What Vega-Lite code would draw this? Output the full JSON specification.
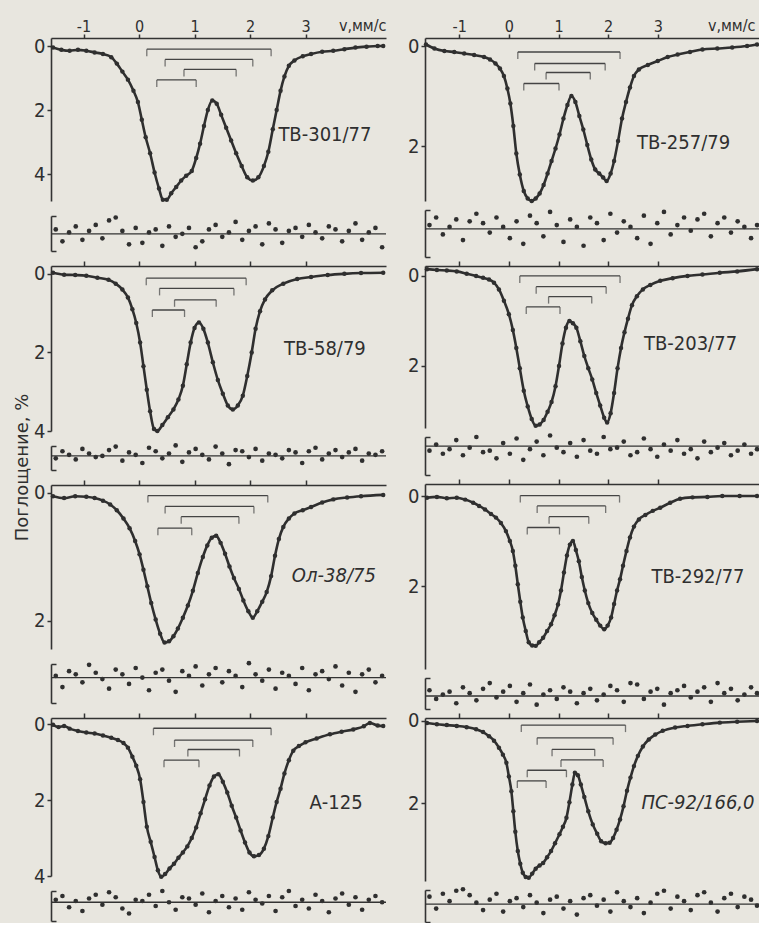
{
"$schema":"https://vega.github.io/schema/vega-lite/v6.json",
"background":"#e8e6df",
"padding":{"left":12,"top":17,"right":2,"bottom":0},
"spacing":18,
"config":{"view":{"stroke":null},"axis":{"grid":false,"domainColor":"#333","tickColor":"#333","labelColor":"#2f2f2f","titleColor":"#2f2f2f","domainWidth":1.6,"tickWidth":1.5,"labelExpr":"datum.value + ''","labelFont":"Liberation Sans Narrow, DejaVu Sans Condensed, sans-serif","titleFont":"DejaVu Sans, sans-serif","titleFontWeight":"normal"}},
"datasets":{
"spec":[
{"p":"L1","v":-1.55,"a":0.05},{"p":"L1","v":-1.4,"a":0.12},{"p":"L1","v":-1.25,"a":0.15},{"p":"L1","v":-1.1,"a":0.12},{"p":"L1","v":-0.95,"a":0.15},{"p":"L1","v":-0.8,"a":0.2},{"p":"L1","v":-0.65,"a":0.25},{"p":"L1","v":-0.5,"a":0.35},{"p":"L1","v":-0.4,"a":0.55},{"p":"L1","v":-0.3,"a":0.8},{"p":"L1","v":-0.2,"a":1.05},{"p":"L1","v":-0.1,"a":1.4},{"p":"L1","v":-0.02,"a":1.75},{"p":"L1","v":0.05,"a":2.3},{"p":"L1","v":0.12,"a":2.85},{"p":"L1","v":0.2,"a":3.35},{"p":"L1","v":0.28,"a":3.95},{"p":"L1","v":0.36,"a":4.45},{"p":"L1","v":0.43,"a":4.8},{"p":"L1","v":0.5,"a":4.8},{"p":"L1","v":0.58,"a":4.6},{"p":"L1","v":0.67,"a":4.4},{"p":"L1","v":0.76,"a":4.2},{"p":"L1","v":0.85,"a":4.05},{"p":"L1","v":0.95,"a":3.9},{"p":"L1","v":1.03,"a":3.5},{"p":"L1","v":1.1,"a":3.05},{"p":"L1","v":1.17,"a":2.5},{"p":"L1","v":1.24,"a":2.0},{"p":"L1","v":1.32,"a":1.7},{"p":"L1","v":1.4,"a":1.8},{"p":"L1","v":1.48,"a":2.15},{"p":"L1","v":1.57,"a":2.55},{"p":"L1","v":1.66,"a":2.95},{"p":"L1","v":1.75,"a":3.35},{"p":"L1","v":1.85,"a":3.75},{"p":"L1","v":1.95,"a":4.1},{"p":"L1","v":2.05,"a":4.2},{"p":"L1","v":2.15,"a":4.1},{"p":"L1","v":2.25,"a":3.75},{"p":"L1","v":2.33,"a":3.3},{"p":"L1","v":2.41,"a":2.6},{"p":"L1","v":2.48,"a":2.0},{"p":"L1","v":2.55,"a":1.4},{"p":"L1","v":2.62,"a":0.95},{"p":"L1","v":2.7,"a":0.62},{"p":"L1","v":2.8,"a":0.45},{"p":"L1","v":2.95,"a":0.32},{"p":"L1","v":3.1,"a":0.25},{"p":"L1","v":3.3,"a":0.18},{"p":"L1","v":3.5,"a":0.15},{"p":"L1","v":3.7,"a":0.1},{"p":"L1","v":3.9,"a":0.05},{"p":"L1","v":4.1,"a":0.02},{"p":"L1","v":4.3,"a":0.0},{"p":"L1","v":4.4,"a":0.0},
{"p":"L2","v":-1.55,"a":-0.03},{"p":"L2","v":-1.35,"a":0.02},{"p":"L2","v":-1.15,"a":0.03},{"p":"L2","v":-0.95,"a":0.05},{"p":"L2","v":-0.75,"a":0.1},{"p":"L2","v":-0.55,"a":0.15},{"p":"L2","v":-0.42,"a":0.25},{"p":"L2","v":-0.3,"a":0.4},{"p":"L2","v":-0.2,"a":0.6},{"p":"L2","v":-0.12,"a":0.9},{"p":"L2","v":-0.05,"a":1.25},{"p":"L2","v":0.02,"a":1.75},{"p":"L2","v":0.08,"a":2.35},{"p":"L2","v":0.14,"a":2.95},{"p":"L2","v":0.2,"a":3.5},{"p":"L2","v":0.27,"a":3.95},{"p":"L2","v":0.33,"a":4.0},{"p":"L2","v":0.42,"a":3.85},{"p":"L2","v":0.52,"a":3.65},{"p":"L2","v":0.62,"a":3.45},{"p":"L2","v":0.71,"a":3.2},{"p":"L2","v":0.79,"a":2.85},{"p":"L2","v":0.86,"a":2.3},{"p":"L2","v":0.93,"a":1.75},{"p":"L2","v":1.0,"a":1.38},{"p":"L2","v":1.08,"a":1.24},{"p":"L2","v":1.16,"a":1.4},{"p":"L2","v":1.24,"a":1.75},{"p":"L2","v":1.33,"a":2.25},{"p":"L2","v":1.42,"a":2.7},{"p":"L2","v":1.51,"a":3.05},{"p":"L2","v":1.6,"a":3.35},{"p":"L2","v":1.69,"a":3.45},{"p":"L2","v":1.78,"a":3.35},{"p":"L2","v":1.87,"a":3.1},{"p":"L2","v":1.95,"a":2.6},{"p":"L2","v":2.03,"a":2.0},{"p":"L2","v":2.1,"a":1.4},{"p":"L2","v":2.18,"a":0.95},{"p":"L2","v":2.27,"a":0.65},{"p":"L2","v":2.4,"a":0.42},{"p":"L2","v":2.6,"a":0.25},{"p":"L2","v":2.85,"a":0.13},{"p":"L2","v":3.1,"a":0.08},{"p":"L2","v":3.4,"a":0.03},{"p":"L2","v":3.7,"a":0.0},{"p":"L2","v":4.0,"a":-0.02},{"p":"L2","v":4.4,"a":-0.03},
{"p":"L3","v":-1.55,"a":0.05},{"p":"L3","v":-1.35,"a":0.08},{"p":"L3","v":-1.15,"a":0.05},{"p":"L3","v":-0.95,"a":0.06},{"p":"L3","v":-0.8,"a":0.08},{"p":"L3","v":-0.65,"a":0.12},{"p":"L3","v":-0.52,"a":0.18},{"p":"L3","v":-0.4,"a":0.27},{"p":"L3","v":-0.28,"a":0.4},{"p":"L3","v":-0.17,"a":0.55},{"p":"L3","v":-0.07,"a":0.75},{"p":"L3","v":0.01,"a":0.96},{"p":"L3","v":0.08,"a":1.2},{"p":"L3","v":0.15,"a":1.46},{"p":"L3","v":0.22,"a":1.72},{"p":"L3","v":0.3,"a":1.98},{"p":"L3","v":0.38,"a":2.2},{"p":"L3","v":0.46,"a":2.34},{"p":"L3","v":0.54,"a":2.32},{"p":"L3","v":0.62,"a":2.24},{"p":"L3","v":0.7,"a":2.12},{"p":"L3","v":0.79,"a":1.95},{"p":"L3","v":0.88,"a":1.76},{"p":"L3","v":0.97,"a":1.53},{"p":"L3","v":1.06,"a":1.25},{"p":"L3","v":1.15,"a":1.0},{"p":"L3","v":1.23,"a":0.82},{"p":"L3","v":1.31,"a":0.7},{"p":"L3","v":1.39,"a":0.67},{"p":"L3","v":1.47,"a":0.78},{"p":"L3","v":1.55,"a":0.95},{"p":"L3","v":1.63,"a":1.15},{"p":"L3","v":1.71,"a":1.33},{"p":"L3","v":1.8,"a":1.5},{"p":"L3","v":1.88,"a":1.68},{"p":"L3","v":1.97,"a":1.85},{"p":"L3","v":2.05,"a":1.95},{"p":"L3","v":2.13,"a":1.85},{"p":"L3","v":2.22,"a":1.7},{"p":"L3","v":2.3,"a":1.55},{"p":"L3","v":2.38,"a":1.3},{"p":"L3","v":2.45,"a":0.98},{"p":"L3","v":2.52,"a":0.72},{"p":"L3","v":2.6,"a":0.53},{"p":"L3","v":2.7,"a":0.4},{"p":"L3","v":2.8,"a":0.32},{"p":"L3","v":2.95,"a":0.27},{"p":"L3","v":3.1,"a":0.22},{"p":"L3","v":3.3,"a":0.15},{"p":"L3","v":3.5,"a":0.1},{"p":"L3","v":3.75,"a":0.07},{"p":"L3","v":4.0,"a":0.05},{"p":"L3","v":4.4,"a":0.03},
{"p":"L4","v":-1.55,"a":0.02},{"p":"L4","v":-1.45,"a":0.08},{"p":"L4","v":-1.35,"a":0.05},{"p":"L4","v":-1.25,"a":0.12},{"p":"L4","v":-1.1,"a":0.18},{"p":"L4","v":-0.95,"a":0.22},{"p":"L4","v":-0.8,"a":0.25},{"p":"L4","v":-0.65,"a":0.3},{"p":"L4","v":-0.5,"a":0.36},{"p":"L4","v":-0.38,"a":0.42},{"p":"L4","v":-0.28,"a":0.5},{"p":"L4","v":-0.2,"a":0.62},{"p":"L4","v":-0.12,"a":0.86},{"p":"L4","v":-0.05,"a":1.1},{"p":"L4","v":0.02,"a":1.45},{"p":"L4","v":0.08,"a":2.05},{"p":"L4","v":0.14,"a":2.7},{"p":"L4","v":0.21,"a":3.1},{"p":"L4","v":0.28,"a":3.5},{"p":"L4","v":0.34,"a":3.85},{"p":"L4","v":0.4,"a":4.02},{"p":"L4","v":0.47,"a":3.95},{"p":"L4","v":0.55,"a":3.8},{"p":"L4","v":0.63,"a":3.68},{"p":"L4","v":0.71,"a":3.52},{"p":"L4","v":0.79,"a":3.38},{"p":"L4","v":0.87,"a":3.22},{"p":"L4","v":0.95,"a":3.0},{"p":"L4","v":1.03,"a":2.72},{"p":"L4","v":1.11,"a":2.35},{"p":"L4","v":1.19,"a":1.98},{"p":"L4","v":1.27,"a":1.62},{"p":"L4","v":1.35,"a":1.38},{"p":"L4","v":1.43,"a":1.32},{"p":"L4","v":1.51,"a":1.52},{"p":"L4","v":1.59,"a":1.8},{"p":"L4","v":1.67,"a":2.15},{"p":"L4","v":1.75,"a":2.46},{"p":"L4","v":1.83,"a":2.8},{"p":"L4","v":1.91,"a":3.12},{"p":"L4","v":1.99,"a":3.38},{"p":"L4","v":2.07,"a":3.48},{"p":"L4","v":2.16,"a":3.45},{"p":"L4","v":2.25,"a":3.28},{"p":"L4","v":2.33,"a":2.95},{"p":"L4","v":2.41,"a":2.46},{"p":"L4","v":2.48,"a":2.05},{"p":"L4","v":2.55,"a":1.7},{"p":"L4","v":2.62,"a":1.3},{"p":"L4","v":2.7,"a":0.95},{"p":"L4","v":2.78,"a":0.7},{"p":"L4","v":2.88,"a":0.58},{"p":"L4","v":3.0,"a":0.48},{"p":"L4","v":3.2,"a":0.38},{"p":"L4","v":3.44,"a":0.27},{"p":"L4","v":3.65,"a":0.2},{"p":"L4","v":3.86,"a":0.14},{"p":"L4","v":4.05,"a":0.06},{"p":"L4","v":4.16,"a":-0.03},{"p":"L4","v":4.3,"a":0.04},{"p":"L4","v":4.4,"a":0.05},
{"p":"R1","v":-1.67,"a":-0.03},{"p":"R1","v":-1.5,"a":0.05},{"p":"R1","v":-1.3,"a":0.1},{"p":"R1","v":-1.1,"a":0.12},{"p":"R1","v":-0.9,"a":0.15},{"p":"R1","v":-0.7,"a":0.18},{"p":"R1","v":-0.5,"a":0.22},{"p":"R1","v":-0.38,"a":0.27},{"p":"R1","v":-0.27,"a":0.35},{"p":"R1","v":-0.18,"a":0.45},{"p":"R1","v":-0.1,"a":0.6},{"p":"R1","v":-0.03,"a":0.85},{"p":"R1","v":0.03,"a":1.15},{"p":"R1","v":0.09,"a":1.6},{"p":"R1","v":0.15,"a":2.15},{"p":"R1","v":0.22,"a":2.57},{"p":"R1","v":0.3,"a":2.9},{"p":"R1","v":0.38,"a":3.05},{"p":"R1","v":0.46,"a":3.1},{"p":"R1","v":0.54,"a":3.05},{"p":"R1","v":0.62,"a":2.95},{"p":"R1","v":0.7,"a":2.78},{"p":"R1","v":0.78,"a":2.55},{"p":"R1","v":0.86,"a":2.3},{"p":"R1","v":0.94,"a":2.05},{"p":"R1","v":1.02,"a":1.77},{"p":"R1","v":1.1,"a":1.45},{"p":"R1","v":1.18,"a":1.18},{"p":"R1","v":1.26,"a":1.0},{"p":"R1","v":1.34,"a":1.12},{"p":"R1","v":1.42,"a":1.4},{"p":"R1","v":1.5,"a":1.67},{"p":"R1","v":1.58,"a":1.98},{"p":"R1","v":1.66,"a":2.27},{"p":"R1","v":1.74,"a":2.47},{"p":"R1","v":1.82,"a":2.55},{"p":"R1","v":1.9,"a":2.63},{"p":"R1","v":1.97,"a":2.7},{"p":"R1","v":2.05,"a":2.55},{"p":"R1","v":2.12,"a":2.3},{"p":"R1","v":2.2,"a":1.9},{"p":"R1","v":2.28,"a":1.45},{"p":"R1","v":2.36,"a":1.12},{"p":"R1","v":2.44,"a":0.83},{"p":"R1","v":2.52,"a":0.6},{"p":"R1","v":2.62,"a":0.47},{"p":"R1","v":2.8,"a":0.38},{"p":"R1","v":3.0,"a":0.3},{"p":"R1","v":3.2,"a":0.22},{"p":"R1","v":3.4,"a":0.17},{"p":"R1","v":3.65,"a":0.12},{"p":"R1","v":3.9,"a":0.07},{"p":"R1","v":4.2,"a":0.05},{"p":"R1","v":4.5,"a":0.03},{"p":"R1","v":4.8,"a":0.0},{"p":"R1","v":5.0,"a":-0.03},
{"p":"R2","v":-1.65,"a":-0.15},{"p":"R2","v":-1.45,"a":-0.13},{"p":"R2","v":-1.25,"a":-0.12},{"p":"R2","v":-1.05,"a":-0.1},{"p":"R2","v":-0.85,"a":-0.05},{"p":"R2","v":-0.66,"a":0.0},{"p":"R2","v":-0.52,"a":0.04},{"p":"R2","v":-0.4,"a":0.08},{"p":"R2","v":-0.3,"a":0.15},{"p":"R2","v":-0.2,"a":0.3},{"p":"R2","v":-0.1,"a":0.55},{"p":"R2","v":0.0,"a":0.85},{"p":"R2","v":0.08,"a":1.2},{"p":"R2","v":0.15,"a":1.6},{"p":"R2","v":0.22,"a":2.05},{"p":"R2","v":0.3,"a":2.55},{"p":"R2","v":0.38,"a":2.9},{"p":"R2","v":0.46,"a":3.18},{"p":"R2","v":0.54,"a":3.33},{"p":"R2","v":0.62,"a":3.3},{"p":"R2","v":0.7,"a":3.2},{"p":"R2","v":0.78,"a":3.02},{"p":"R2","v":0.86,"a":2.8},{"p":"R2","v":0.94,"a":2.45},{"p":"R2","v":1.01,"a":2.0},{"p":"R2","v":1.08,"a":1.5},{"p":"R2","v":1.15,"a":1.15},{"p":"R2","v":1.22,"a":1.0},{"p":"R2","v":1.29,"a":1.05},{"p":"R2","v":1.36,"a":1.15},{"p":"R2","v":1.44,"a":1.45},{"p":"R2","v":1.52,"a":1.78},{"p":"R2","v":1.6,"a":2.05},{"p":"R2","v":1.68,"a":2.3},{"p":"R2","v":1.76,"a":2.6},{"p":"R2","v":1.84,"a":2.88},{"p":"R2","v":1.92,"a":3.15},{"p":"R2","v":1.98,"a":3.26},{"p":"R2","v":2.05,"a":3.05},{"p":"R2","v":2.12,"a":2.6},{"p":"R2","v":2.19,"a":2.05},{"p":"R2","v":2.26,"a":1.6},{"p":"R2","v":2.33,"a":1.25},{"p":"R2","v":2.4,"a":0.95},{"p":"R2","v":2.48,"a":0.65},{"p":"R2","v":2.58,"a":0.45},{"p":"R2","v":2.7,"a":0.3},{"p":"R2","v":2.85,"a":0.2},{"p":"R2","v":3.05,"a":0.11},{"p":"R2","v":3.3,"a":0.05},{"p":"R2","v":3.6,"a":0.0},{"p":"R2","v":3.9,"a":-0.03},{"p":"R2","v":4.25,"a":-0.07},{"p":"R2","v":4.6,"a":-0.1},{"p":"R2","v":5.0,"a":-0.15},
{"p":"R3","v":-1.65,"a":0.04},{"p":"R3","v":-1.45,"a":0.02},{"p":"R3","v":-1.25,"a":0.05},{"p":"R3","v":-1.05,"a":0.04},{"p":"R3","v":-0.88,"a":0.08},{"p":"R3","v":-0.72,"a":0.15},{"p":"R3","v":-0.6,"a":0.22},{"p":"R3","v":-0.48,"a":0.3},{"p":"R3","v":-0.36,"a":0.4},{"p":"R3","v":-0.26,"a":0.48},{"p":"R3","v":-0.16,"a":0.6},{"p":"R3","v":-0.06,"a":0.78},{"p":"R3","v":0.02,"a":1.0},{"p":"R3","v":0.08,"a":1.22},{"p":"R3","v":0.13,"a":1.55},{"p":"R3","v":0.18,"a":1.96},{"p":"R3","v":0.23,"a":2.35},{"p":"R3","v":0.28,"a":2.7},{"p":"R3","v":0.34,"a":3.0},{"p":"R3","v":0.4,"a":3.25},{"p":"R3","v":0.47,"a":3.32},{"p":"R3","v":0.54,"a":3.33},{"p":"R3","v":0.61,"a":3.25},{"p":"R3","v":0.69,"a":3.15},{"p":"R3","v":0.77,"a":3.0},{"p":"R3","v":0.85,"a":2.85},{"p":"R3","v":0.92,"a":2.65},{"p":"R3","v":0.99,"a":2.41},{"p":"R3","v":1.05,"a":2.1},{"p":"R3","v":1.11,"a":1.7},{"p":"R3","v":1.17,"a":1.32},{"p":"R3","v":1.23,"a":1.08},{"p":"R3","v":1.29,"a":1.0},{"p":"R3","v":1.35,"a":1.2},{"p":"R3","v":1.41,"a":1.45},{"p":"R3","v":1.47,"a":1.8},{"p":"R3","v":1.53,"a":2.1},{"p":"R3","v":1.6,"a":2.38},{"p":"R3","v":1.68,"a":2.6},{"p":"R3","v":1.76,"a":2.75},{"p":"R3","v":1.84,"a":2.88},{"p":"R3","v":1.92,"a":2.96},{"p":"R3","v":1.99,"a":2.88},{"p":"R3","v":2.06,"a":2.7},{"p":"R3","v":2.12,"a":2.4},{"p":"R3","v":2.18,"a":2.1},{"p":"R3","v":2.24,"a":1.85},{"p":"R3","v":2.3,"a":1.55},{"p":"R3","v":2.37,"a":1.22},{"p":"R3","v":2.44,"a":0.92},{"p":"R3","v":2.52,"a":0.68},{"p":"R3","v":2.62,"a":0.52},{"p":"R3","v":2.75,"a":0.42},{"p":"R3","v":2.9,"a":0.33},{"p":"R3","v":3.05,"a":0.26},{"p":"R3","v":3.25,"a":0.15},{"p":"R3","v":3.45,"a":0.06},{"p":"R3","v":3.7,"a":0.03},{"p":"R3","v":4.0,"a":0.02},{"p":"R3","v":4.3,"a":0.0},{"p":"R3","v":4.65,"a":0.0},{"p":"R3","v":5.0,"a":0.0},
{"p":"R4","v":-1.65,"a":0.05},{"p":"R4","v":-1.45,"a":0.08},{"p":"R4","v":-1.25,"a":0.1},{"p":"R4","v":-1.05,"a":0.12},{"p":"R4","v":-0.85,"a":0.15},{"p":"R4","v":-0.66,"a":0.2},{"p":"R4","v":-0.52,"a":0.27},{"p":"R4","v":-0.4,"a":0.37},{"p":"R4","v":-0.3,"a":0.48},{"p":"R4","v":-0.2,"a":0.65},{"p":"R4","v":-0.12,"a":0.82},{"p":"R4","v":-0.05,"a":1.02},{"p":"R4","v":0.0,"a":1.35},{"p":"R4","v":0.05,"a":1.71},{"p":"R4","v":0.09,"a":2.2},{"p":"R4","v":0.13,"a":2.7},{"p":"R4","v":0.18,"a":3.17},{"p":"R4","v":0.23,"a":3.48},{"p":"R4","v":0.28,"a":3.7},{"p":"R4","v":0.34,"a":3.8},{"p":"R4","v":0.4,"a":3.82},{"p":"R4","v":0.47,"a":3.72},{"p":"R4","v":0.54,"a":3.6},{"p":"R4","v":0.62,"a":3.52},{"p":"R4","v":0.69,"a":3.46},{"p":"R4","v":0.77,"a":3.32},{"p":"R4","v":0.85,"a":3.17},{"p":"R4","v":0.93,"a":2.98},{"p":"R4","v":1.02,"a":2.76},{"p":"R4","v":1.09,"a":2.58},{"p":"R4","v":1.16,"a":2.36},{"p":"R4","v":1.22,"a":1.98},{"p":"R4","v":1.28,"a":1.55},{"p":"R4","v":1.33,"a":1.26},{"p":"R4","v":1.39,"a":1.32},{"p":"R4","v":1.45,"a":1.55},{"p":"R4","v":1.52,"a":1.85},{"p":"R4","v":1.6,"a":2.2},{"p":"R4","v":1.69,"a":2.52},{"p":"R4","v":1.78,"a":2.75},{"p":"R4","v":1.86,"a":2.93},{"p":"R4","v":1.95,"a":2.98},{"p":"R4","v":2.03,"a":2.97},{"p":"R4","v":2.1,"a":2.85},{"p":"R4","v":2.17,"a":2.65},{"p":"R4","v":2.24,"a":2.4},{"p":"R4","v":2.31,"a":2.08},{"p":"R4","v":2.38,"a":1.7},{"p":"R4","v":2.45,"a":1.38},{"p":"R4","v":2.52,"a":1.1},{"p":"R4","v":2.6,"a":0.85},{"p":"R4","v":2.7,"a":0.62},{"p":"R4","v":2.82,"a":0.45},{"p":"R4","v":2.95,"a":0.33},{"p":"R4","v":3.1,"a":0.24},{"p":"R4","v":3.35,"a":0.16},{"p":"R4","v":3.6,"a":0.12},{"p":"R4","v":3.9,"a":0.08},{"p":"R4","v":4.25,"a":0.04},{"p":"R4","v":4.6,"a":0.02},{"p":"R4","v":5.0,"a":0.0}
],
"br":[
{"p":"L1","v1":0.14,"v2":2.38,"b":0.1},{"p":"L1","v1":0.47,"v2":2.05,"b":0.42},{"p":"L1","v1":0.81,"v2":1.75,"b":0.73},{"p":"L1","v1":0.32,"v2":1.03,"b":1.06},
{"p":"L2","v1":0.13,"v2":1.93,"b":0.11},{"p":"L2","v1":0.37,"v2":1.71,"b":0.37},{"p":"L2","v1":0.64,"v2":1.39,"b":0.66},{"p":"L2","v1":0.24,"v2":0.82,"b":0.92},
{"p":"L3","v1":0.16,"v2":2.32,"b":0.04},{"p":"L3","v1":0.47,"v2":2.07,"b":0.21},{"p":"L3","v1":0.76,"v2":1.8,"b":0.37},{"p":"L3","v1":0.34,"v2":0.95,"b":0.55},
{"p":"L4","v1":0.26,"v2":2.38,"b":0.11},{"p":"L4","v1":0.64,"v2":2.05,"b":0.42},{"p":"L4","v1":0.88,"v2":1.81,"b":0.67},{"p":"L4","v1":0.45,"v2":1.08,"b":0.95},
{"p":"R1","v1":0.18,"v2":2.24,"b":0.12},{"p":"R1","v1":0.52,"v2":1.94,"b":0.35},{"p":"R1","v1":0.75,"v2":1.64,"b":0.53},{"p":"R1","v1":0.3,"v2":1.01,"b":0.75},
{"p":"R2","v1":0.22,"v2":2.24,"b":0.0},{"p":"R2","v1":0.55,"v2":1.96,"b":0.24},{"p":"R2","v1":0.8,"v2":1.67,"b":0.46},{"p":"R2","v1":0.35,"v2":1.03,"b":0.69},
{"p":"R3","v1":0.23,"v2":2.23,"b":-0.01},{"p":"R3","v1":0.57,"v2":1.95,"b":0.22},{"p":"R3","v1":0.81,"v2":1.61,"b":0.46},{"p":"R3","v1":0.37,"v2":1.02,"b":0.7},
{"p":"R4","v1":0.25,"v2":2.35,"b":0.1},{"p":"R4","v1":0.57,"v2":2.1,"b":0.41},{"p":"R4","v1":0.87,"v2":1.73,"b":0.69},{"p":"R4","v1":1.05,"v2":1.9,"b":0.95},{"p":"R4","v1":0.37,"v2":1.16,"b":1.2},{"p":"R4","v1":0.17,"v2":0.75,"b":1.46}
],
"lab":[
{"p":"L1","v":3.35,"a":2.78,"t":"ТВ-301/77"},{"p":"L2","v":3.35,"a":1.9,"t":"ТВ-58/79"},{"p":"L3","v":3.51,"a":1.3,"t":"Ол-38/75"},{"p":"L4","v":3.55,"a":2.08,"t":"А-125"},
{"p":"R1","v":3.52,"a":1.93,"t":"ТВ-257/79"},{"p":"R2","v":3.66,"a":1.51,"t":"ТВ-203/77"},{"p":"R3","v":3.81,"a":1.81,"t":"ТВ-292/77"},{"p":"R4","v":3.81,"a":1.99,"t":"ПС-92/166,0"}
],
"rl":[
{"v":-1.5,"L1":0.3,"L2":-0.2,"L3":0.1,"L4":0.2},{"v":-1.38,"L1":-0.5,"L2":0.4,"L3":-0.6,"L4":0.5},{"v":-1.26,"L1":0.1,"L2":0.1,"L3":0.4,"L4":-0.4},{"v":-1.14,"L1":0.5,"L2":-0.3,"L3":0.2,"L4":0.1},{"v":-1.02,"L1":-0.4,"L2":0.6,"L3":-0.3,"L4":-0.7},{"v":-0.9,"L1":0.2,"L2":0.2,"L3":0.8,"L4":0.3},{"v":-0.78,"L1":0.6,"L2":-0.1,"L3":0.3,"L4":0.6},{"v":-0.66,"L1":-0.3,"L2":0.0,"L3":-0.1,"L4":-0.2},{"v":-0.54,"L1":0.9,"L2":0.5,"L3":-0.7,"L4":0.8},{"v":-0.42,"L1":1.1,"L2":0.8,"L3":0.5,"L4":0.4},{"v":-0.3,"L1":0.2,"L2":-0.4,"L3":0.2,"L4":-0.5},{"v":-0.18,"L1":-0.7,"L2":0.3,"L3":-0.4,"L4":-0.9},{"v":-0.06,"L1":0.4,"L2":0.1,"L3":0.6,"L4":0.2},{"v":0.06,"L1":-0.6,"L2":-0.6,"L3":0.0,"L4":0.1},{"v":0.18,"L1":0.1,"L2":0.7,"L3":-0.8,"L4":0.6},{"v":0.3,"L1":0.3,"L2":0.4,"L3":0.3,"L4":-0.3},{"v":0.42,"L1":-0.8,"L2":-0.2,"L3":0.5,"L4":0.9},{"v":0.54,"L1":0.5,"L2":0.2,"L3":-0.2,"L4":0.0},{"v":0.66,"L1":-0.2,"L2":0.9,"L3":-0.9,"L4":-0.6},{"v":0.78,"L1":0.0,"L2":-0.5,"L3":0.4,"L4":0.4},{"v":0.9,"L1":0.4,"L2":0.3,"L3":0.1,"L4":0.3},{"v":1.02,"L1":-0.9,"L2":0.6,"L3":0.7,"L4":-0.2},{"v":1.14,"L1":-0.5,"L2":0.1,"L3":-0.5,"L4":0.7},{"v":1.26,"L1":0.3,"L2":-0.3,"L3":0.2,"L4":-0.8},{"v":1.38,"L1":0.6,"L2":0.8,"L3":0.6,"L4":0.1},{"v":1.5,"L1":-0.2,"L2":0.2,"L3":-0.3,"L4":0.5},{"v":1.62,"L1":0.1,"L2":-0.7,"L3":0.4,"L4":-0.4},{"v":1.74,"L1":0.8,"L2":0.5,"L3":0.1,"L4":0.3},{"v":1.86,"L1":-0.4,"L2":0.4,"L3":-0.6,"L4":-0.6},{"v":1.98,"L1":0.2,"L2":-0.1,"L3":0.9,"L4":0.8},{"v":2.1,"L1":0.5,"L2":0.6,"L3":0.2,"L4":0.2},{"v":2.22,"L1":-0.7,"L2":-0.4,"L3":-0.2,"L4":-0.1},{"v":2.34,"L1":0.7,"L2":0.2,"L3":0.5,"L4":0.5},{"v":2.46,"L1":0.3,"L2":0.1,"L3":-0.7,"L4":-0.7},{"v":2.58,"L1":-0.6,"L2":-0.2,"L3":0.3,"L4":0.4},{"v":2.7,"L1":0.2,"L2":0.5,"L3":0.1,"L4":0.9},{"v":2.82,"L1":0.4,"L2":0.3,"L3":-0.4,"L4":-0.3},{"v":2.94,"L1":-0.2,"L2":-0.6,"L3":0.6,"L4":0.2},{"v":3.06,"L1":0.6,"L2":0.4,"L3":-0.8,"L4":-0.5},{"v":3.18,"L1":0.1,"L2":0.7,"L3":0.2,"L4":0.6},{"v":3.3,"L1":-0.3,"L2":-0.3,"L3":0.4,"L4":0.1},{"v":3.42,"L1":0.5,"L2":0.2,"L3":-0.1,"L4":-0.8},{"v":3.54,"L1":0.3,"L2":0.5,"L3":0.7,"L4":0.3},{"v":3.66,"L1":-0.5,"L2":-0.1,"L3":-0.5,"L4":0.7},{"v":3.78,"L1":0.2,"L2":0.3,"L3":0.3,"L4":-0.2},{"v":3.9,"L1":0.7,"L2":0.6,"L3":-0.9,"L4":0.4},{"v":4.02,"L1":-0.4,"L2":-0.4,"L3":0.2,"L4":-0.6},{"v":4.14,"L1":0.1,"L2":0.2,"L3":0.5,"L4":0.2},{"v":4.26,"L1":0.4,"L2":0.1,"L3":-0.3,"L4":0.5},{"v":4.38,"L1":-0.9,"L2":0.4,"L3":0.1,"L4":0.0}
],
"rr":[
{"v":-1.6,"R1":0.2,"R2":-0.3,"R3":0.4,"R4":0.5},{"v":-1.465,"R1":0.6,"R2":0.1,"R3":-0.2,"R4":-0.3},{"v":-1.33,"R1":-0.3,"R2":-0.5,"R3":0.1,"R4":0.7},{"v":-1.195,"R1":0.1,"R2":-0.2,"R3":0.3,"R4":0.2},{"v":-1.06,"R1":0.5,"R2":0.4,"R3":-0.5,"R4":0.9},{"v":-0.925,"R1":-0.6,"R2":-0.6,"R3":0.6,"R4":1.0},{"v":-0.79,"R1":0.4,"R2":-0.1,"R3":0.2,"R4":0.6},{"v":-0.655,"R1":0.8,"R2":0.6,"R3":-0.3,"R4":0.1},{"v":-0.52,"R1":0.3,"R2":-0.4,"R3":0.5,"R4":-0.4},{"v":-0.385,"R1":-0.2,"R2":-0.3,"R3":0.9,"R4":0.3},{"v":-0.25,"R1":0.6,"R2":-0.8,"R3":-0.1,"R4":0.7},{"v":-0.115,"R1":0.1,"R2":0.2,"R3":0.3,"R4":-0.5},{"v":0.02,"R1":-0.5,"R2":-0.5,"R3":0.7,"R4":0.2},{"v":0.155,"R1":0.4,"R2":0.5,"R3":-0.4,"R4":0.4},{"v":0.29,"R1":-0.8,"R2":-0.9,"R3":0.2,"R4":-0.2},{"v":0.425,"R1":0.7,"R2":-0.2,"R3":0.8,"R4":0.6},{"v":0.56,"R1":0.3,"R2":0.3,"R3":-0.6,"R4":0.1},{"v":0.695,"R1":-0.4,"R2":-0.6,"R3":0.1,"R4":-0.6},{"v":0.83,"R1":0.9,"R2":0.7,"R3":0.4,"R4":0.3},{"v":0.965,"R1":0.2,"R2":-0.1,"R3":-0.2,"R4":0.5},{"v":1.1,"R1":-0.7,"R2":-0.4,"R3":0.6,"R4":-0.3},{"v":1.235,"R1":0.5,"R2":0.2,"R3":0.3,"R4":0.2},{"v":1.37,"R1":0.1,"R2":-0.7,"R3":-0.5,"R4":-0.7},{"v":1.505,"R1":-0.9,"R2":0.4,"R3":0.2,"R4":0.4},{"v":1.64,"R1":0.6,"R2":-0.3,"R3":0.5,"R4":0.6},{"v":1.775,"R1":0.3,"R2":-0.5,"R3":-0.3,"R4":-0.1},{"v":1.91,"R1":-0.6,"R2":0.6,"R3":0.1,"R4":0.3},{"v":2.045,"R1":0.8,"R2":-0.2,"R3":0.7,"R4":-0.5},{"v":2.18,"R1":-0.2,"R2":-0.1,"R3":0.4,"R4":0.8},{"v":2.315,"R1":0.4,"R2":0.3,"R3":-0.4,"R4":0.2},{"v":2.45,"R1":0.1,"R2":-0.6,"R3":0.9,"R4":-0.2},{"v":2.585,"R1":-0.5,"R2":-0.4,"R3":0.8,"R4":0.4},{"v":2.72,"R1":0.7,"R2":0.5,"R3":-0.2,"R4":-0.6},{"v":2.855,"R1":-0.8,"R2":-0.2,"R3":0.3,"R4":0.1},{"v":2.99,"R1":0.3,"R2":-0.7,"R3":0.5,"R4":0.7},{"v":3.125,"R1":0.9,"R2":0.1,"R3":-0.6,"R4":0.9},{"v":3.26,"R1":-0.3,"R2":-0.3,"R3":0.2,"R4":-0.3},{"v":3.395,"R1":0.2,"R2":0.4,"R3":0.4,"R4":0.5},{"v":3.53,"R1":0.6,"R2":-0.5,"R3":0.7,"R4":0.2},{"v":3.665,"R1":-0.1,"R2":-0.2,"R3":-0.1,"R4":-0.4},{"v":3.8,"R1":0.5,"R2":-0.8,"R3":0.3,"R4":0.6},{"v":3.935,"R1":0.8,"R2":0.3,"R3":0.6,"R4":0.8},{"v":4.07,"R1":-0.4,"R2":-0.4,"R3":-0.4,"R4":0.1},{"v":4.205,"R1":0.3,"R2":-0.1,"R3":0.9,"R4":-0.5},{"v":4.34,"R1":0.6,"R2":0.2,"R3":0.2,"R4":0.4},{"v":4.475,"R1":-0.2,"R2":-0.6,"R3":0.5,"R4":0.7},{"v":4.61,"R1":0.4,"R2":-0.3,"R3":-0.3,"R4":-0.2},{"v":4.745,"R1":0.1,"R2":0.1,"R3":0.1,"R4":0.5},{"v":4.88,"R1":-0.5,"R2":-0.5,"R3":0.6,"R4":0.3},{"v":5.0,"R1":0.2,"R2":-0.2,"R3":0.2,"R4":-0.1}
]
},
"hconcat":[
{"vconcat":[
 {"width":335,"height":163,"layer":[
  {"data":{"name":"spec"},"transform":[{"filter":"datum.p=='L1'"}],"mark":{"type":"line","color":"#2f2f2f","strokeWidth":2.6,"interpolate":"monotone"},
   "encoding":{"x":{"field":"v","type":"quantitative","scale":{"domain":[-1.586,4.45],"nice":false,"zero":false},"axis":{"orient":"top","values":[-1,0,1,2,3],"title":"v,мм/с","titleAnchor":"end","titleAlign":"right","titleX":335,"titleY":-5,"titleBaseline":"bottom","titleAngle":0,"titleFont":"Liberation Sans Narrow, DejaVu Sans Condensed, sans-serif","titleFontSize":16,"labelFontSize":16,"tickSize":4,"labelPadding":0}},
    "y":{"field":"a","type":"quantitative","scale":{"domain":[-0.25,4.84],"reverse":true,"nice":false,"zero":false},"axis":{"orient":"left","values":[0,2,4],"title":null,"tickSize":4,"labelPadding":2,"labelFontSize":20}}}},
  {"data":{"name":"spec"},"transform":[{"filter":"datum.p=='L1'"}],"mark":{"type":"circle","size":20,"color":"#2f2f2f","opacity":1},"encoding":{"x":{"field":"v","type":"quantitative"},"y":{"field":"a","type":"quantitative"}}},
  {"data":{"name":"br"},"transform":[{"filter":"datum.p=='L1'"}],"mark":{"type":"rule","color":"#444","strokeWidth":1.3},"encoding":{"x":{"field":"v1","type":"quantitative"},"x2":{"field":"v2"},"y":{"field":"b","type":"quantitative"}}},
  {"data":{"name":"br"},"transform":[{"filter":"datum.p=='L1'"}],"mark":{"type":"tick","orient":"vertical","size":7,"thickness":1.3,"yOffset":3.5,"color":"#444"},"encoding":{"x":{"field":"v1","type":"quantitative"},"y":{"field":"b","type":"quantitative"}}},
  {"data":{"name":"br"},"transform":[{"filter":"datum.p=='L1'"}],"mark":{"type":"tick","orient":"vertical","size":7,"thickness":1.3,"yOffset":3.5,"color":"#444"},"encoding":{"x":{"field":"v2","type":"quantitative"},"y":{"field":"b","type":"quantitative"}}},
  {"data":{"name":"lab"},"transform":[{"filter":"datum.p=='L1'"}],"mark":{"type":"text","fontSize":20,"font":"Liberation Sans Narrow, DejaVu Sans Condensed, sans-serif","color":"#2f2f2f"},"encoding":{"x":{"field":"v","type":"quantitative"},"y":{"field":"a","type":"quantitative"},"text":{"field":"t"}}}
 ]},
 {"width":335,"height":35,"data":{"name":"rl"},"layer":[
  {"mark":{"type":"circle","size":22,"color":"#2f2f2f","opacity":1},"encoding":{"x":{"field":"v","type":"quantitative","scale":{"domain":[-1.586,4.45],"nice":false,"zero":false},"axis":null},"y":{"field":"L1","type":"quantitative","scale":{"domain":[-1.15,1.2],"nice":false,"zero":false},"axis":{"orient":"left","values":[-1.15,1.2],"labels":false,"title":null,"tickSize":-5}}}},
  {"data":{"values":[{}]},"mark":{"type":"rule","color":"#333","strokeWidth":1.3},"encoding":{"y":{"datum":0}}}
 ]},
 {"width":335,"height":165,"layer":[
  {"data":{"name":"spec"},"transform":[{"filter":"datum.p=='L2'"}],"mark":{"type":"line","color":"#2f2f2f","strokeWidth":2.6,"interpolate":"monotone"},
   "encoding":{"x":{"field":"v","type":"quantitative","scale":{"domain":[-1.586,4.45],"nice":false,"zero":false},"axis":{"orient":"top","values":[-1,0,1,2,3],"title":null,"labels":false,"tickSize":5}},
    "y":{"field":"a","type":"quantitative","scale":{"domain":[-0.2,4.0],"reverse":true,"nice":false,"zero":false},"axis":{"orient":"left","values":[0,2,4],"title":null,"tickSize":4,"labelPadding":2,"labelFontSize":20}}}},
  {"data":{"name":"spec"},"transform":[{"filter":"datum.p=='L2'"}],"mark":{"type":"circle","size":20,"color":"#2f2f2f","opacity":1},"encoding":{"x":{"field":"v","type":"quantitative"},"y":{"field":"a","type":"quantitative"}}},
  {"data":{"name":"br"},"transform":[{"filter":"datum.p=='L2'"}],"mark":{"type":"rule","color":"#444","strokeWidth":1.3},"encoding":{"x":{"field":"v1","type":"quantitative"},"x2":{"field":"v2"},"y":{"field":"b","type":"quantitative"}}},
  {"data":{"name":"br"},"transform":[{"filter":"datum.p=='L2'"}],"mark":{"type":"tick","orient":"vertical","size":7,"thickness":1.3,"yOffset":3.5,"color":"#444"},"encoding":{"x":{"field":"v1","type":"quantitative"},"y":{"field":"b","type":"quantitative"}}},
  {"data":{"name":"br"},"transform":[{"filter":"datum.p=='L2'"}],"mark":{"type":"tick","orient":"vertical","size":7,"thickness":1.3,"yOffset":3.5,"color":"#444"},"encoding":{"x":{"field":"v2","type":"quantitative"},"y":{"field":"b","type":"quantitative"}}},
  {"data":{"name":"lab"},"transform":[{"filter":"datum.p=='L2'"}],"mark":{"type":"text","fontSize":20,"font":"Liberation Sans Narrow, DejaVu Sans Condensed, sans-serif","color":"#2f2f2f"},"encoding":{"x":{"field":"v","type":"quantitative"},"y":{"field":"a","type":"quantitative"},"text":{"field":"t"}}}
 ]},
 {"width":335,"height":24,"data":{"name":"rl"},"layer":[
  {"mark":{"type":"circle","size":22,"color":"#2f2f2f","opacity":1},"encoding":{"x":{"field":"v","type":"quantitative","scale":{"domain":[-1.586,4.45],"nice":false,"zero":false},"axis":null},"y":{"field":"L2","type":"quantitative","scale":{"domain":[-1.2,0.85],"nice":false,"zero":false},"axis":{"orient":"left","values":[-1.2,0.85],"labels":false,"title":null,"tickSize":-5}}}},
  {"data":{"values":[{}]},"mark":{"type":"rule","color":"#333","strokeWidth":1.3},"encoding":{"y":{"datum":0}}}
 ]},
 {"width":335,"height":164,"layer":[
  {"data":{"name":"spec"},"transform":[{"filter":"datum.p=='L3'"}],"mark":{"type":"line","color":"#2f2f2f","strokeWidth":2.6,"interpolate":"monotone"},
   "encoding":{"x":{"field":"v","type":"quantitative","scale":{"domain":[-1.586,4.45],"nice":false,"zero":false},"axis":{"orient":"top","values":[-1,0,1,2,3],"title":null,"labels":false,"tickSize":5}},
    "y":{"field":"a","type":"quantitative","scale":{"domain":[-0.125,2.44],"reverse":true,"nice":false,"zero":false},"axis":{"orient":"left","values":[0,2],"title":"Поглощение, %","titleX":-29,"titleY":-18,"titleAngle":-90,"titleAlign":"center","titleBaseline":"middle","titleFontSize":18,"tickSize":4,"labelPadding":2,"labelFontSize":20}}}},
  {"data":{"name":"spec"},"transform":[{"filter":"datum.p=='L3'"}],"mark":{"type":"circle","size":20,"color":"#2f2f2f","opacity":1},"encoding":{"x":{"field":"v","type":"quantitative"},"y":{"field":"a","type":"quantitative"}}},
  {"data":{"name":"br"},"transform":[{"filter":"datum.p=='L3'"}],"mark":{"type":"rule","color":"#444","strokeWidth":1.3},"encoding":{"x":{"field":"v1","type":"quantitative"},"x2":{"field":"v2"},"y":{"field":"b","type":"quantitative"}}},
  {"data":{"name":"br"},"transform":[{"filter":"datum.p=='L3'"}],"mark":{"type":"tick","orient":"vertical","size":7,"thickness":1.3,"yOffset":3.5,"color":"#444"},"encoding":{"x":{"field":"v1","type":"quantitative"},"y":{"field":"b","type":"quantitative"}}},
  {"data":{"name":"br"},"transform":[{"filter":"datum.p=='L3'"}],"mark":{"type":"tick","orient":"vertical","size":7,"thickness":1.3,"yOffset":3.5,"color":"#444"},"encoding":{"x":{"field":"v2","type":"quantitative"},"y":{"field":"b","type":"quantitative"}}},
  {"data":{"name":"lab"},"transform":[{"filter":"datum.p=='L3'"}],"mark":{"type":"text","fontSize":20,"font":"Liberation Sans Narrow, DejaVu Sans Condensed, sans-serif","fontStyle":"italic","color":"#2f2f2f"},"encoding":{"x":{"field":"v","type":"quantitative"},"y":{"field":"a","type":"quantitative"},"text":{"field":"t"}}}
 ]},
 {"width":335,"height":39,"data":{"name":"rl"},"layer":[
  {"mark":{"type":"circle","size":22,"color":"#2f2f2f","opacity":1},"encoding":{"x":{"field":"v","type":"quantitative","scale":{"domain":[-1.586,4.45],"nice":false,"zero":false},"axis":null},"y":{"field":"L3","type":"quantitative","scale":{"domain":[-1.6,0.85],"nice":false,"zero":false},"axis":{"orient":"left","values":[-1.6,0.85],"labels":false,"title":null,"tickSize":-5}}}},
  {"data":{"values":[{}]},"mark":{"type":"rule","color":"#333","strokeWidth":1.3},"encoding":{"y":{"datum":0}}}
 ]},
 {"width":335,"height":158,"layer":[
  {"data":{"name":"spec"},"transform":[{"filter":"datum.p=='L4'"}],"mark":{"type":"line","color":"#2f2f2f","strokeWidth":2.6,"interpolate":"monotone"},
   "encoding":{"x":{"field":"v","type":"quantitative","scale":{"domain":[-1.586,4.45],"nice":false,"zero":false},"axis":{"orient":"top","values":[-1,0,1,2,3],"title":null,"labels":false,"tickSize":5}},
    "y":{"field":"a","type":"quantitative","scale":{"domain":[-0.16,4.0],"reverse":true,"nice":false,"zero":false},"axis":{"orient":"left","values":[0,2,4],"title":null,"tickSize":4,"labelPadding":2,"labelFontSize":20}}}},
  {"data":{"name":"spec"},"transform":[{"filter":"datum.p=='L4'"}],"mark":{"type":"circle","size":20,"color":"#2f2f2f","opacity":1},"encoding":{"x":{"field":"v","type":"quantitative"},"y":{"field":"a","type":"quantitative"}}},
  {"data":{"name":"br"},"transform":[{"filter":"datum.p=='L4'"}],"mark":{"type":"rule","color":"#444","strokeWidth":1.3},"encoding":{"x":{"field":"v1","type":"quantitative"},"x2":{"field":"v2"},"y":{"field":"b","type":"quantitative"}}},
  {"data":{"name":"br"},"transform":[{"filter":"datum.p=='L4'"}],"mark":{"type":"tick","orient":"vertical","size":7,"thickness":1.3,"yOffset":3.5,"color":"#444"},"encoding":{"x":{"field":"v1","type":"quantitative"},"y":{"field":"b","type":"quantitative"}}},
  {"data":{"name":"br"},"transform":[{"filter":"datum.p=='L4'"}],"mark":{"type":"tick","orient":"vertical","size":7,"thickness":1.3,"yOffset":3.5,"color":"#444"},"encoding":{"x":{"field":"v2","type":"quantitative"},"y":{"field":"b","type":"quantitative"}}},
  {"data":{"name":"lab"},"transform":[{"filter":"datum.p=='L4'"}],"mark":{"type":"text","fontSize":20,"font":"Liberation Sans Narrow, DejaVu Sans Condensed, sans-serif","color":"#2f2f2f"},"encoding":{"x":{"field":"v","type":"quantitative"},"y":{"field":"a","type":"quantitative"},"text":{"field":"t"}}}
 ]},
 {"width":335,"height":30,"data":{"name":"rl"},"layer":[
  {"mark":{"type":"circle","size":22,"color":"#2f2f2f","opacity":1},"encoding":{"x":{"field":"v","type":"quantitative","scale":{"domain":[-1.586,4.45],"nice":false,"zero":false},"axis":null},"y":{"field":"L4","type":"quantitative","scale":{"domain":[-1.5,0.9],"nice":false,"zero":false},"axis":{"orient":"left","values":[-1.5,0.9],"labels":false,"title":null,"tickSize":-5}}}},
  {"data":{"values":[{}]},"mark":{"type":"rule","color":"#333","strokeWidth":1.3},"encoding":{"y":{"datum":0}}}
 ]}
],"spacing":15,"bounds":"flush"},
{"vconcat":[
 {"width":335,"height":163,"layer":[
  {"data":{"name":"spec"},"transform":[{"filter":"datum.p=='R1'"}],"mark":{"type":"line","color":"#2f2f2f","strokeWidth":2.6,"interpolate":"monotone"},
   "encoding":{"x":{"field":"v","type":"quantitative","scale":{"domain":[-1.69,5.06],"nice":false,"zero":false},"axis":{"orient":"top","values":[-1,0,1,2,3],"title":"v,мм/с","titleAnchor":"end","titleAlign":"right","titleX":330,"titleY":-5,"titleBaseline":"bottom","titleAngle":0,"titleFont":"Liberation Sans Narrow, DejaVu Sans Condensed, sans-serif","titleFontSize":16,"labelFontSize":16,"tickSize":4,"labelPadding":0}},
    "y":{"field":"a","type":"quantitative","scale":{"domain":[-0.16,3.1],"reverse":true,"nice":false,"zero":false},"axis":{"orient":"left","values":[0,2],"title":null,"tickSize":4,"labelPadding":2,"labelFontSize":20}}}},
  {"data":{"name":"spec"},"transform":[{"filter":"datum.p=='R1'"}],"mark":{"type":"circle","size":20,"color":"#2f2f2f","opacity":1},"encoding":{"x":{"field":"v","type":"quantitative"},"y":{"field":"a","type":"quantitative"}}},
  {"data":{"name":"br"},"transform":[{"filter":"datum.p=='R1'"}],"mark":{"type":"rule","color":"#444","strokeWidth":1.3},"encoding":{"x":{"field":"v1","type":"quantitative"},"x2":{"field":"v2"},"y":{"field":"b","type":"quantitative"}}},
  {"data":{"name":"br"},"transform":[{"filter":"datum.p=='R1'"}],"mark":{"type":"tick","orient":"vertical","size":7,"thickness":1.3,"yOffset":3.5,"color":"#444"},"encoding":{"x":{"field":"v1","type":"quantitative"},"y":{"field":"b","type":"quantitative"}}},
  {"data":{"name":"br"},"transform":[{"filter":"datum.p=='R1'"}],"mark":{"type":"tick","orient":"vertical","size":7,"thickness":1.3,"yOffset":3.5,"color":"#444"},"encoding":{"x":{"field":"v2","type":"quantitative"},"y":{"field":"b","type":"quantitative"}}},
  {"data":{"name":"lab"},"transform":[{"filter":"datum.p=='R1'"}],"mark":{"type":"text","fontSize":20,"font":"Liberation Sans Narrow, DejaVu Sans Condensed, sans-serif","color":"#2f2f2f"},"encoding":{"x":{"field":"v","type":"quantitative"},"y":{"field":"a","type":"quantitative"},"text":{"field":"t"}}}
 ]},
 {"width":335,"height":47,"data":{"name":"rr"},"layer":[
  {"mark":{"type":"circle","size":22,"color":"#2f2f2f","opacity":1},"encoding":{"x":{"field":"v","type":"quantitative","scale":{"domain":[-1.69,5.06],"nice":false,"zero":false},"axis":null},"y":{"field":"R1","type":"quantitative","scale":{"domain":[-1.5,1.0],"nice":false,"zero":false},"axis":{"orient":"left","values":[-1.5,1.0],"labels":false,"title":null,"tickSize":-5}}}},
  {"data":{"values":[{}]},"mark":{"type":"rule","color":"#333","strokeWidth":1.3},"encoding":{"y":{"datum":0}}}
 ]},
 {"width":335,"height":162,"layer":[
  {"data":{"name":"spec"},"transform":[{"filter":"datum.p=='R2'"}],"mark":{"type":"line","color":"#2f2f2f","strokeWidth":2.6,"interpolate":"monotone"},
   "encoding":{"x":{"field":"v","type":"quantitative","scale":{"domain":[-1.69,5.06],"nice":false,"zero":false},"axis":{"orient":"top","values":[-1,0,1,2,3],"title":null,"labels":false,"tickSize":5}},
    "y":{"field":"a","type":"quantitative","scale":{"domain":[-0.22,3.38],"reverse":true,"nice":false,"zero":false},"axis":{"orient":"left","values":[0,2],"title":null,"tickSize":4,"labelPadding":2,"labelFontSize":20}}}},
  {"data":{"name":"spec"},"transform":[{"filter":"datum.p=='R2'"}],"mark":{"type":"circle","size":20,"color":"#2f2f2f","opacity":1},"encoding":{"x":{"field":"v","type":"quantitative"},"y":{"field":"a","type":"quantitative"}}},
  {"data":{"name":"br"},"transform":[{"filter":"datum.p=='R2'"}],"mark":{"type":"rule","color":"#444","strokeWidth":1.3},"encoding":{"x":{"field":"v1","type":"quantitative"},"x2":{"field":"v2"},"y":{"field":"b","type":"quantitative"}}},
  {"data":{"name":"br"},"transform":[{"filter":"datum.p=='R2'"}],"mark":{"type":"tick","orient":"vertical","size":7,"thickness":1.3,"yOffset":3.5,"color":"#444"},"encoding":{"x":{"field":"v1","type":"quantitative"},"y":{"field":"b","type":"quantitative"}}},
  {"data":{"name":"br"},"transform":[{"filter":"datum.p=='R2'"}],"mark":{"type":"tick","orient":"vertical","size":7,"thickness":1.3,"yOffset":3.5,"color":"#444"},"encoding":{"x":{"field":"v2","type":"quantitative"},"y":{"field":"b","type":"quantitative"}}},
  {"data":{"name":"lab"},"transform":[{"filter":"datum.p=='R2'"}],"mark":{"type":"text","fontSize":20,"font":"Liberation Sans Narrow, DejaVu Sans Condensed, sans-serif","color":"#2f2f2f"},"encoding":{"x":{"field":"v","type":"quantitative"},"y":{"field":"a","type":"quantitative"},"text":{"field":"t"}}}
 ]},
 {"width":335,"height":38,"data":{"name":"rr"},"layer":[
  {"mark":{"type":"circle","size":22,"color":"#2f2f2f","opacity":1},"encoding":{"x":{"field":"v","type":"quantitative","scale":{"domain":[-1.69,5.06],"nice":false,"zero":false},"axis":null},"y":{"field":"R2","type":"quantitative","scale":{"domain":[-1.9,0.6],"nice":false,"zero":false},"axis":{"orient":"left","values":[-1.9,0.6],"labels":false,"title":null,"tickSize":-5}}}},
  {"data":{"values":[{}]},"mark":{"type":"rule","color":"#333","strokeWidth":1.3},"encoding":{"y":{"datum":0}}}
 ]},
 {"width":335,"height":185,"layer":[
  {"data":{"name":"spec"},"transform":[{"filter":"datum.p=='R3'"}],"mark":{"type":"line","color":"#2f2f2f","strokeWidth":2.6,"interpolate":"monotone"},
   "encoding":{"x":{"field":"v","type":"quantitative","scale":{"domain":[-1.69,5.06],"nice":false,"zero":false},"axis":{"orient":"top","values":[-1,0,1,2,3],"title":null,"labels":false,"tickSize":5}},
    "y":{"field":"a","type":"quantitative","scale":{"domain":[-0.267,3.844],"reverse":true,"nice":false,"zero":false},"axis":{"orient":"left","values":[0,2],"title":null,"tickSize":4,"labelPadding":2,"labelFontSize":20}}}},
  {"data":{"name":"spec"},"transform":[{"filter":"datum.p=='R3'"}],"mark":{"type":"circle","size":20,"color":"#2f2f2f","opacity":1},"encoding":{"x":{"field":"v","type":"quantitative"},"y":{"field":"a","type":"quantitative"}}},
  {"data":{"name":"br"},"transform":[{"filter":"datum.p=='R3'"}],"mark":{"type":"rule","color":"#444","strokeWidth":1.3},"encoding":{"x":{"field":"v1","type":"quantitative"},"x2":{"field":"v2"},"y":{"field":"b","type":"quantitative"}}},
  {"data":{"name":"br"},"transform":[{"filter":"datum.p=='R3'"}],"mark":{"type":"tick","orient":"vertical","size":7,"thickness":1.3,"yOffset":3.5,"color":"#444"},"encoding":{"x":{"field":"v1","type":"quantitative"},"y":{"field":"b","type":"quantitative"}}},
  {"data":{"name":"br"},"transform":[{"filter":"datum.p=='R3'"}],"mark":{"type":"tick","orient":"vertical","size":7,"thickness":1.3,"yOffset":3.5,"color":"#444"},"encoding":{"x":{"field":"v2","type":"quantitative"},"y":{"field":"b","type":"quantitative"}}},
  {"data":{"name":"lab"},"transform":[{"filter":"datum.p=='R3'"}],"mark":{"type":"text","fontSize":20,"font":"Liberation Sans Narrow, DejaVu Sans Condensed, sans-serif","color":"#2f2f2f"},"encoding":{"x":{"field":"v","type":"quantitative"},"y":{"field":"a","type":"quantitative"},"text":{"field":"t"}}}
 ]},
 {"width":335,"height":31,"data":{"name":"rr"},"layer":[
  {"mark":{"type":"circle","size":22,"color":"#2f2f2f","opacity":1},"encoding":{"x":{"field":"v","type":"quantitative","scale":{"domain":[-1.69,5.06],"nice":false,"zero":false},"axis":null},"y":{"field":"R3","type":"quantitative","scale":{"domain":[-0.9,1.25],"nice":false,"zero":false},"axis":{"orient":"left","values":[-0.9,1.25],"labels":false,"title":null,"tickSize":-5}}}},
  {"data":{"values":[{}]},"mark":{"type":"rule","color":"#333","strokeWidth":1.3},"encoding":{"y":{"datum":0}}}
 ]},
 {"width":335,"height":163,"layer":[
  {"data":{"name":"spec"},"transform":[{"filter":"datum.p=='R4'"}],"mark":{"type":"line","color":"#2f2f2f","strokeWidth":2.6,"interpolate":"monotone"},
   "encoding":{"x":{"field":"v","type":"quantitative","scale":{"domain":[-1.69,5.06],"nice":false,"zero":false},"axis":{"orient":"top","values":[-1,0,1,2,3],"title":null,"labels":false,"tickSize":5}},
    "y":{"field":"a","type":"quantitative","scale":{"domain":[-0.073,3.9],"reverse":true,"nice":false,"zero":false},"axis":{"orient":"left","values":[0,2],"title":null,"tickSize":4,"labelPadding":2,"labelFontSize":20}}}},
  {"data":{"name":"spec"},"transform":[{"filter":"datum.p=='R4'"}],"mark":{"type":"circle","size":20,"color":"#2f2f2f","opacity":1},"encoding":{"x":{"field":"v","type":"quantitative"},"y":{"field":"a","type":"quantitative"}}},
  {"data":{"name":"br"},"transform":[{"filter":"datum.p=='R4'"}],"mark":{"type":"rule","color":"#444","strokeWidth":1.3},"encoding":{"x":{"field":"v1","type":"quantitative"},"x2":{"field":"v2"},"y":{"field":"b","type":"quantitative"}}},
  {"data":{"name":"br"},"transform":[{"filter":"datum.p=='R4'"}],"mark":{"type":"tick","orient":"vertical","size":7,"thickness":1.3,"yOffset":3.5,"color":"#444"},"encoding":{"x":{"field":"v1","type":"quantitative"},"y":{"field":"b","type":"quantitative"}}},
  {"data":{"name":"br"},"transform":[{"filter":"datum.p=='R4'"}],"mark":{"type":"tick","orient":"vertical","size":7,"thickness":1.3,"yOffset":3.5,"color":"#444"},"encoding":{"x":{"field":"v2","type":"quantitative"},"y":{"field":"b","type":"quantitative"}}},
  {"data":{"name":"lab"},"transform":[{"filter":"datum.p=='R4'"}],"mark":{"type":"text","fontSize":20,"font":"Liberation Sans Narrow, DejaVu Sans Condensed, sans-serif","fontStyle":"italic","color":"#2f2f2f"},"encoding":{"x":{"field":"v","type":"quantitative"},"y":{"field":"a","type":"quantitative"},"text":{"field":"t"}}}
 ]},
 {"width":335,"height":32,"data":{"name":"rr"},"layer":[
  {"mark":{"type":"circle","size":22,"color":"#2f2f2f","opacity":1},"encoding":{"x":{"field":"v","type":"quantitative","scale":{"domain":[-1.69,5.06],"nice":false,"zero":false},"axis":null},"y":{"field":"R4","type":"quantitative","scale":{"domain":[-1.2,0.95],"nice":false,"zero":false},"axis":{"orient":"left","values":[-1.2,0.95],"labels":false,"title":null,"tickSize":-5}}}},
  {"data":{"values":[{}]},"mark":{"type":"rule","color":"#333","strokeWidth":1.3},"encoding":{"y":{"datum":0}}}
 ]}
],"spacing":9,"bounds":"flush"}
]
}
